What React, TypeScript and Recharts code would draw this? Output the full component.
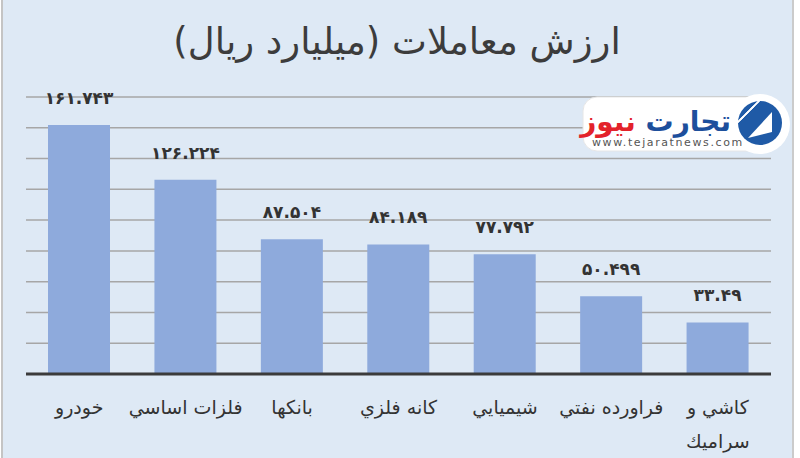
import { BarChart, Bar, XAxis, YAxis, CartesianGrid, LabelList } from 'recharts'

const categories = ['خودرو', 'فلزات اساسي', 'بانكها', 'كانه فلزي', 'شيميايي', 'فراورده نفتي', 'كاشي و\nسراميك']
const values = [161.743, 126.224, 87.504, 84.189, 77.792, 50.499, 33.49]
const yTicks = [0, 20, 40, 60, 80, 100, 120, 140, 160, 180]

const title = 'ارزش معاملات  (میلیارد ریال)'

const data = categories.map((name, i) => ({ name, value: values[i] }))

const FA_DIGITS = '۰۱۲۳۴۵۶۷۸۹'
const toFa = (v: number | string) => String(v).replace(/[0-9]/g, d => FA_DIGITS[Number(d)])

const FONT = '"DejaVu Sans", sans-serif'

const CategoryTick = ({ x, y, payload }: any) => {
  const lines = String(payload.value).split('\n')
  return (
    <text x={x} y={y} textAnchor="middle" direction="rtl" fontSize={19} fill="#333" fontFamily={FONT}>
      {lines.map((l, i) => (
        <tspan key={i} x={x} dy={i === 0 ? 32 : 34}>{l}</tspan>
      ))}
    </text>
  )
}

const ValueLabel = ({ x, y, width, value }: any) => (
  <text
    x={x + width / 2}
    y={y - 21}
    textAnchor="middle"
    fontSize={17}
    fontWeight="bold"
    fill="#333"
    fontFamily={FONT}
  >
    {toFa(value)}
  </text>
)

function Logo() {
  return (
    <g>
      <rect x={583} y={97} width={190} height={54} rx={14} fill="#fff" stroke="#e6e6e6" />
      <circle cx={760} cy={124} r={30} fill="#fff" />
      <circle cx={760} cy={123} r={22} fill="#1f5aa6" />
      {[-12, -7, -2, 3, 8].map(o => (
        <line key={o} x1={742 + o} y1={118 - o} x2={756 + o} y2={104 - o} stroke="#fff" strokeWidth={1.6} />
      ))}
      <path d="M748 138 L772 112 L772 132 Z" fill="#fff" />
      <text x={731} y={131} direction="rtl" textAnchor="start" fontSize={28} fontWeight="bold" fontFamily={FONT}>
        <tspan fill="#1d4f9c">تجارت</tspan>
        <tspan fill="#e3222b"> نيوز</tspan>
      </text>
      <text x={592} y={146} fontSize={11} letterSpacing={1.6} fill="#555" fontFamily={FONT}>
        www.tejaratnews.com
      </text>
    </g>
  )
}

export default function App() {
  return (
    <div style={{ position: 'absolute', left: 0, top: 0, width: 800, height: 458, background: '#fff' }}>
      <div
        style={{
          position: 'absolute',
          left: 1,
          top: 0,
          width: 793,
          height: 458,
          background: '#dee9f5',
          borderLeft: '2px solid #c4c4c4',
          borderRight: '2px solid #cbcbcb',
          boxSizing: 'border-box',
        }}
      />
      <div style={{ position: 'absolute', left: 0, top: 0 }}>
        <BarChart width={800} height={458} data={data} margin={{ top: 97, right: 29, left: 26, bottom: 54 }}>
          <CartesianGrid vertical={false} stroke="#a6a6a6" strokeWidth={1.5} />
          <YAxis hide domain={[0, 180]} ticks={yTicks} />
          <XAxis
            dataKey="name"
            interval={0}
            tickLine={false}
            axisLine={{ stroke: '#3b3b3b', strokeWidth: 3 }}
            tick={<CategoryTick />}
          />
          <Bar dataKey="value" fill="#8eaadc" barSize={62} isAnimationActive={false}>
            <LabelList dataKey="value" content={<ValueLabel />} />
          </Bar>
        </BarChart>
      </div>
      <svg width={800} height={458} style={{ position: 'absolute', left: 0, top: 0, pointerEvents: 'none' }}>
        <text x={397} y={54} textAnchor="middle" direction="rtl" fontSize={37} fill="#3c3c3c" fontFamily={FONT}>
          {title}
        </text>
        <Logo />
      </svg>
    </div>
  )
}
